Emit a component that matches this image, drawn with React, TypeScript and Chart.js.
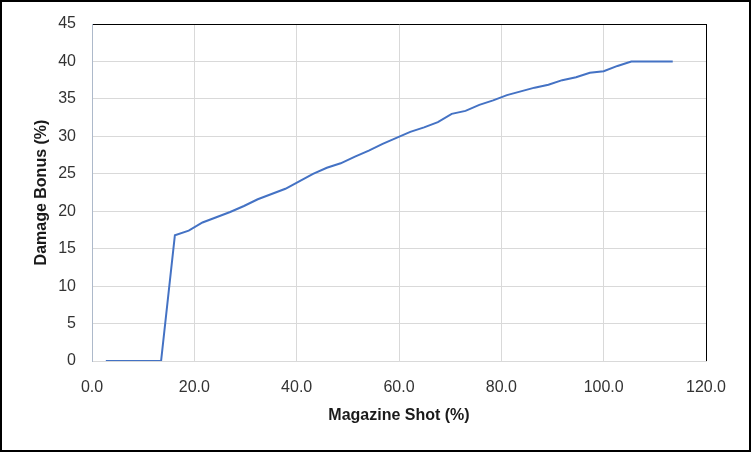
import { useEffect, useRef } from 'react';
import { Chart, ChartConfiguration } from 'chart.js/auto';

// Magazine shot (%) vs damage bonus (%)
const shotPct = [
  2.7, 5.4, 8.1, 10.8, 13.5, 16.2, 18.9, 21.6, 24.3, 27.0, 29.7, 32.4, 35.1, 37.8,
  40.5, 43.2, 45.9, 48.6, 51.4, 54.1, 56.8, 59.5, 62.2, 64.9, 67.6, 70.3, 73.0,
  75.7, 78.4, 81.1, 83.8, 86.5, 89.2, 91.9, 94.6, 97.3, 100.0, 102.7, 105.4,
  108.1, 110.8, 113.5,
];
const bonusPct = [
  0, 0, 0, 0, 0, 16.8, 17.4, 18.5, 19.2, 19.9, 20.7, 21.6, 22.3, 23.0,
  24.0, 25.0, 25.8, 26.4, 27.3, 28.1, 29.0, 29.8, 30.6, 31.2, 31.9, 33.0, 33.4,
  34.2, 34.8, 35.5, 36.0, 36.5, 36.9, 37.5, 37.9, 38.5, 38.7, 39.4, 40.0,
  40.0, 40.0, 40.0,
];
const xTitle = 'Magazine Shot (%)';
const yTitle = 'Damage Bonus (%)';

const FONT = "'Liberation Sans', Arial, sans-serif";

export default function App() {
  const canvasRef = useRef<HTMLCanvasElement | null>(null);

  useEffect(() => {
    document.body.style.margin = '0';
    if (!canvasRef.current) return;
    const ctx = canvasRef.current.getContext('2d');
    if (!ctx) return;

    const config: ChartConfiguration<'scatter'> = {
      type: 'scatter',
      data: {
        datasets: [
          {
            data: shotPct.map((x, i) => ({ x, y: bonusPct[i] })),
            showLine: true,
            borderColor: '#4472C4',
            borderWidth: 2,
            pointRadius: 0,
            tension: 0,
          },
        ],
      },
      options: {
        animation: false,
        responsive: false,
        maintainAspectRatio: false,
        layout: { padding: { left: 0, top: 22, right: 43, bottom: 0 } },
        plugins: { legend: { display: false }, tooltip: { enabled: false } },
        scales: {
          x: {
            type: 'linear',
            min: 0,
            max: 120,
            afterFit: (s) => { s.height = 89; },
            grid: {
              color: (c) => (c.tick && c.tick.value === 120 ? '#000000' : '#d9d9d9'),
              drawTicks: false,
            },
            border: { color: '#d9d9d9' },
            ticks: {
              stepSize: 20,
              padding: 17,
              color: '#333333',
              font: { family: FONT, size: 16 },
              callback: (v) => Number(v).toFixed(1),
            },
            title: {
              display: true,
              text: xTitle,
              color: '#1a1a1a',
              font: { family: FONT, size: 16, weight: 'bold' },
              padding: { top: 0, bottom: 25 },
            },
          },
          y: {
            min: 0,
            max: 45,
            afterFit: (s) => {
              s.width = 90;
              // keep the plot area where the layout padding puts it
              s.paddingTop = 0;
              s.paddingBottom = 0;
            },
            grid: {
              color: (c) => (c.tick && c.tick.value === 45 ? '#000000' : '#d9d9d9'),
              drawTicks: false,
            },
            border: { color: '#adb9ca' },
            ticks: {
              stepSize: 5,
              padding: 16,
              color: '#333333',
              font: { family: FONT, size: 16 },
            },
            title: {
              display: true,
              text: yTitle,
              color: '#1a1a1a',
              font: { family: FONT, size: 16, weight: 'bold' },
              padding: { top: 30, bottom: 0 },
            },
          },
        },
      },
    };

    const chart = new Chart(ctx, config);
    return () => chart.destroy();
  }, []);

  return (
    <div
      style={{
        width: 751,
        height: 452,
        boxSizing: 'border-box',
        border: '2px solid #000',
        background: '#fff',
      }}
    >
      <canvas ref={canvasRef} width={747} height={448} style={{ display: 'block' }} />
    </div>
  );
}
